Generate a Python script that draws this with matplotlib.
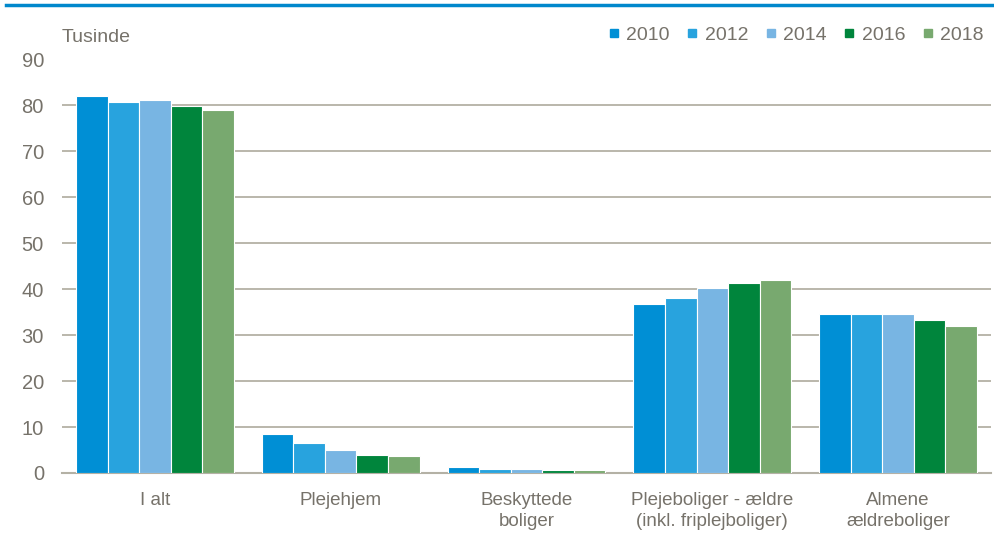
import numpy as np
import matplotlib
matplotlib.use("Agg")
import matplotlib.pyplot as plt
from matplotlib.lines import Line2D

plt.rcParams['font.family'] = ['Liberation Sans', 'DejaVu Sans']

categories = ["I alt", "Plejehjem", "Beskyttede\nboliger",
              "Plejeboliger - ældre\n(inkl. friplejboliger)", "Almene\nældreboliger"]
years = ["2010", "2012", "2014", "2016", "2018"]
v2010 = [82.0, 8.4, 1.3, 36.7, 34.6]
v2012 = [80.7, 6.6, 0.9, 38.0, 34.6]
v2014 = [81.1, 4.9, 0.9, 40.2, 34.6]
v2016 = [79.8, 4.0, 0.6, 41.4, 33.2]
v2018 = [78.9, 3.6, 0.6, 41.9, 31.9]
series = [v2010, v2012, v2014, v2016, v2018]
colors = ["#008FD5", "#28A3DE", "#78B5E3", "#00853C", "#78A96F"]

text_col = "#76726A"
grid_col = "#B4B1A5"

fig = plt.figure(figsize=(9.95, 5.37), dpi=100)
ax = fig.add_axes([62 / 995, 1 - 473 / 537, (991 - 62) / 995, (473 - 59.5) / 537])

x = np.arange(len(categories))
w = 0.17
for i, (vals, c) in enumerate(zip(series, colors)):
    ax.bar(x + (i - 2) * w, vals, w, color=c, edgecolor="white", linewidth=0.8, zorder=3)

ax.set_xlim(-0.5, 4.5)
ax.set_ylim(0, 90)
ax.set_yticks(range(0, 91, 10))
ax.set_xticks(x)
ax.set_xticklabels(categories, fontsize=13.5, color=text_col, linespacing=1.25)
ax.tick_params(axis="x", length=0, pad=14)
ax.tick_params(axis="y", length=0, pad=13, labelsize=14.5, labelcolor=text_col)
ax.yaxis.grid(True, color=grid_col, linewidth=1.3, zorder=0)
for s in ["top", "right", "left"]:
    ax.spines[s].set_visible(False)
ax.spines["bottom"].set_color(grid_col)
ax.spines["bottom"].set_linewidth(1.5)
ax.spines["bottom"].set_zorder(2)

fig.text(62 / 995, 1 - 37 / 537, "Tusinde", fontsize=14, color=text_col, va="center", ha="left")

handles = [Line2D([], [], marker="s", linestyle="", markersize=6, color=c) for c in colors]
fig.legend(handles, years, ncol=5, loc="center right", bbox_to_anchor=(984 / 995, 1 - 35 / 537),
           frameon=False, fontsize=14, labelcolor=text_col, handlelength=0.5,
           handletextpad=0.4, columnspacing=0.9, borderaxespad=0, borderpad=0)

fig.add_artist(Line2D([6 / 995, 1], [1 - 5 / 537, 1 - 5 / 537], color="#0088CC", linewidth=2.5))

fig.savefig("out.png", dpi=100)
